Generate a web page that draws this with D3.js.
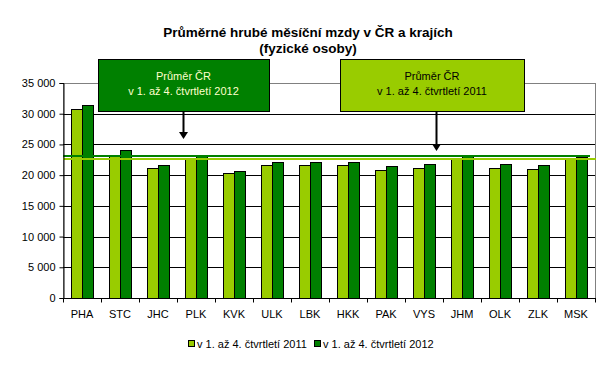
<!DOCTYPE html>
<html><head><meta charset="utf-8">
<script src="https://cdn.jsdelivr.net/npm/d3@7"></script>
<style>body{margin:0;background:#fff}svg{display:block}text{font-family:"Liberation Sans",Arial,sans-serif}</style>
</head><body>
<svg id="c" width="607" height="374"></svg>
<script>
const categories = ["PHA","STC","JHC","PLK","KVK","ULK","LBK","HKK","PAK","VYS","JHM","OLK","ZLK","MSK"];
const values2011 = [30720,23300,21160,22600,20300,21600,21600,21600,20790,21160,22790,21110,20950,22630];
const values2012 = [31420,24090,21600,23150,20620,22090,22090,22090,21440,21760,23060,21760,21600,22950];
const seriesNames = ["v 1. až 4. čtvrtletí 2011","v 1. až 4. čtvrtletí 2012"];
const avg2011 = 22580;
const avg2012 = 23120;
const yTicks = [0,5000,10000,15000,20000,25000,30000,35000];
const colors = ["#99CC00","#008000"];
const FONT = "'Liberation Sans',Arial,sans-serif";

const svg = d3.select("#c");
const L = 63, R = 595, T = 83, B = 298;
const x = d3.scaleBand().domain(categories).range([L, R]).paddingInner(0).paddingOuter(0);
const y = d3.scaleLinear().domain([0,35000]).range([B, T]);

// title
svg.append("text").attr("x",308).attr("y",37).attr("text-anchor","middle").attr("font-family",FONT)
  .attr("font-size",13.5).attr("font-weight","bold").text("Průměrné hrubé měsíční mzdy v ČR a krajích");
svg.append("text").attr("x",308).attr("y",53).attr("text-anchor","middle").attr("font-family",FONT)
  .attr("font-size",13.5).attr("font-weight","bold").text("(fyzické osoby)");

// plot border
svg.append("rect").attr("x",L+0.5).attr("y",T+0.5).attr("width",R-L).attr("height",B-T)
  .attr("fill","#fff").attr("stroke","#808080").attr("stroke-width",1);

// gridlines
svg.append("g").selectAll("line").data(yTicks.filter(d=>d>0 && d<35000)).join("line")
  .attr("x1",L).attr("x2",R).attr("y1",d=>Math.round(y(d))+0.5).attr("y2",d=>Math.round(y(d))+0.5)
  .attr("stroke","#000").attr("stroke-width",1);

// bars
const bw = x.bandwidth()*0.29;
const off = (x.bandwidth() - 2*bw)/2;
const series = [values2011, values2012];
series.forEach((vals,si)=>{
  svg.append("g").selectAll("rect").data(categories).join("rect")
    .attr("x",(d)=>Math.round(x(d)+off+si*bw)+0.5)
    .attr("y",(d,i)=>Math.round(y(vals[i]))+0.5)
    .attr("width",Math.round(bw))
    .attr("height",(d,i)=>Math.round(B - y(vals[i])))
    .attr("fill",colors[si]).attr("stroke","#000").attr("stroke-width",1);
});

// average lines
svg.append("line").attr("x1",L).attr("x2",590).attr("y1",Math.round(y(avg2012))).attr("y2",Math.round(y(avg2012)))
  .attr("stroke",colors[1]).attr("stroke-width",2);
svg.append("line").attr("x1",L).attr("x2",596).attr("y1",Math.round(y(avg2011))).attr("y2",Math.round(y(avg2011)))
  .attr("stroke",colors[0]).attr("stroke-width",2);

// axes
const yAxis = d3.axisLeft(y).tickValues(yTicks).tickSize(4).tickFormat(d=>d===0?"0":d3.format(",")(d).replace(","," "));
const gy = svg.append("g").attr("transform",`translate(${L+0.5},0)`).call(yAxis);
gy.attr("font-family",FONT);
gy.select(".domain").attr("stroke","#000");
gy.selectAll("text").attr("font-size",11).attr("fill","#000").attr("x",-8);
gy.selectAll(".tick line").attr("stroke","#000");

const gx = svg.append("g").attr("transform",`translate(0,${B+0.5})`);
gx.append("line").attr("x1",L).attr("x2",R+1).attr("stroke","#000");
gx.selectAll("line.t").data(d3.range(categories.length+1)).join("line").attr("class","t")
  .attr("x1",i=>Math.round(L+i*x.step())+0.5).attr("x2",i=>Math.round(L+i*x.step())+0.5)
  .attr("y1",0).attr("y2",4).attr("stroke","#000");
gx.selectAll("text").data(categories).join("text")
  .attr("x",d=>x(d)+x.bandwidth()/2).attr("y",19).attr("text-anchor","middle").attr("font-family",FONT)
  .attr("font-size",11).text(d=>d);

// annotation boxes
function box(x0,x1,fill,textColor,line2,ax,tipY){
  svg.append("rect").attr("x",x0+0.5).attr("y",59.5).attr("width",x1-x0).attr("height",52)
    .attr("fill",fill).attr("stroke","#000").attr("stroke-width",1);
  const cx=(x0+x1)/2;
  svg.append("text").attr("x",cx).attr("y",80).attr("text-anchor","middle").attr("font-size",11).attr("font-family",FONT)
    .attr("fill",textColor).text("Průměr ČR");
  svg.append("text").attr("x",cx).attr("y",95).attr("text-anchor","middle").attr("font-size",11).attr("font-family",FONT)
    .attr("fill",textColor).text(line2);
  svg.append("line").attr("x1",ax).attr("x2",ax).attr("y1",112).attr("y2",tipY-5)
    .attr("stroke","#000").attr("stroke-width",2);
  svg.append("path").attr("d",`M${ax-4.5},${tipY-7}L${ax+4.5},${tipY-7}L${ax},${tipY}Z`).attr("fill","#000");
}
box(98,269,"#008000","#FFFFCC","v 1. až 4. čtvrtletí 2012",183.5,139);
box(340,524,"#99CC00","#000","v 1. až 4. čtvrtletí 2011",436.5,151);

// legend
const lg = svg.append("g");
[[188,seriesNames[0]],[314,seriesNames[1]]].forEach(([lx,name],i)=>{
  lg.append("rect").attr("x",lx+0.5).attr("y",340.5).attr("width",6).attr("height",6)
    .attr("fill",colors[i]).attr("stroke","#000");
  lg.append("text").attr("x",lx+9).attr("y",348).attr("font-size",11).attr("font-family",FONT).text(name);
});
</script>
</body></html>
